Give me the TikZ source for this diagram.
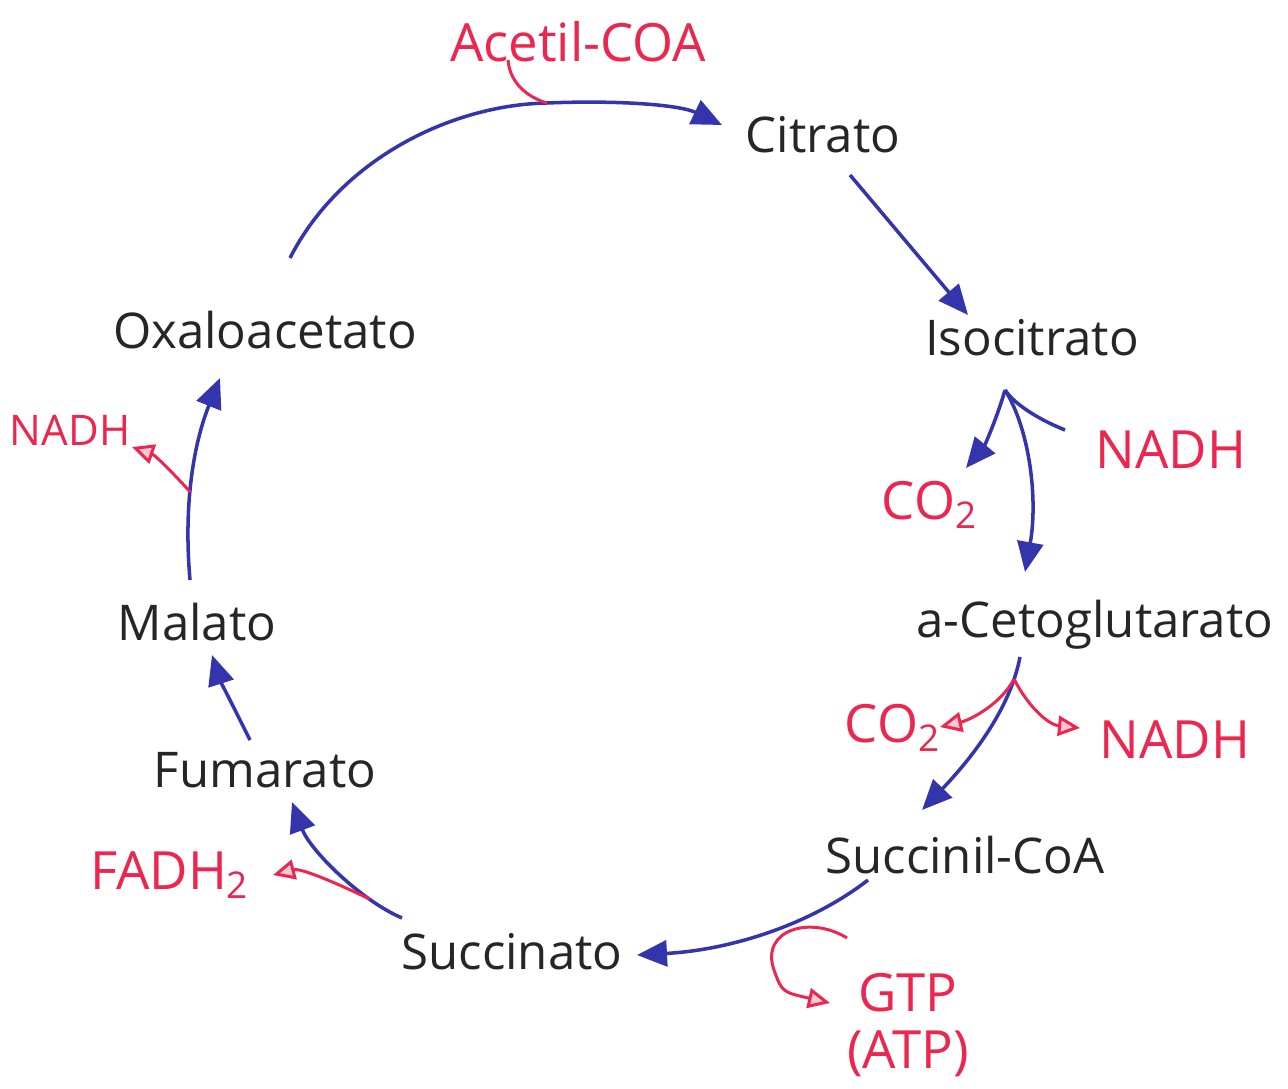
\documentclass[tikz,border=0pt]{standalone}
\usepackage{fontspec}
\setmainfont{Open Sans}
\usetikzlibrary{arrows.meta}
\definecolor{penblue}{RGB}{52,52,172}
\definecolor{penred}{RGB}{236,38,78}
\definecolor{pencil}{RGB}{38,38,38}

\begin{document}
\begin{tikzpicture}[
  metabolite/.style={inner sep=0pt, text=pencil, font=\fontsize{14}{17}\selectfont},
  product/.style={inner sep=0pt, text=penred, font=\fontsize{15}{16}\selectfont},
  cycle/.style={draw=penblue, line width=1pt, -{Triangle[length=0.3cm,width=0.26cm]}},
  joinline/.style={draw=penblue, line width=1pt},
  branch/.style={draw=penred, line width=0.85pt, -{Triangle[fill=penred!25,length=0.22cm,width=0.2cm]}},
  feed/.style={draw=penred, line width=0.85pt},
]
\useasboundingbox (0,0) rectangle (12.88,-10.89);
\fill[white] (0,0) rectangle (12.88,-10.89);

% Metabolites of the cycle
\node[metabolite] (citrato) at (8.23,-1.35) {Citrato};
\node[metabolite] (isocitrato) at (10.32,-3.38) {Isocitrato};
\node[metabolite] (cetoglut) at (10.95,-6.25) {a-Cetoglutarato};
\node[metabolite] (succoa) at (9.65,-8.55) {Succinil-CoA};
\node[metabolite] (succinato) at (5.12,-9.52) {Succinato};
\node[metabolite] (fumarato) at (2.65,-7.70) {Fumarato};
\node[metabolite] (malato) at (1.97,-6.22) {Malato};
\node[metabolite] (oxal) at (2.65,-3.30) {Oxaloacetato};

% What goes in and comes out
\node[product] (acetil) at (5.78,-0.42) {Acetil-COA};
\node[product] (nadhA) at (11.71,-4.50) {NADH};
\node[product] (co2A) at (9.30,-5.05) {CO\textsubscript{2}};
\node[product] (co2B) at (8.93,-7.28) {CO\textsubscript{2}};
\node[product] (nadhB) at (11.75,-7.40) {NADH};
\node[product, align=center] (gtp) at (9.08,-10.25) {GTP\\(ATP)};
\node[product] (fadh) at (1.70,-8.75) {FADH\textsubscript{2}};
\node[product, font=\fontsize{12}{14}\selectfont] (nadhC) at (0.70,-4.30) {NADH};

% The cycle
\draw[cycle] ([shift={(0.25,0.72)}]oxal.center) .. controls (3.4,-1.6) and (4.5,-1.05) .. (5.47,-1.03)
  coordinate (acj) .. controls (6.2,-1.0) and (6.8,-1.05) .. ([shift={(-1.01,0.10)}]citrato.center);
\draw[cycle] ([shift={(0.27,-0.40)}]citrato.center) -- ([shift={(-0.64,0.23)}]isocitrato.center);
\coordinate (j1) at ([shift={(-0.27,-0.52)}]isocitrato.center);
\draw[cycle] (j1) .. controls (10.3,-4.3) and (10.38,-5.0) .. ([shift={(-0.70,0.53)}]cetoglut.center);
\draw[cycle] ([shift={(-0.75,-0.32)}]cetoglut.center) .. controls (10.1,-7.1) and (9.7,-7.6)
  .. ([shift={(-0.43,0.45)}]succoa.center) coordinate[pos=0.14] (j2);
\draw[cycle] ([shift={(-0.97,-0.25)}]succoa.center) .. controls (8.1,-9.25) and (7.3,-9.5)
  .. ([shift={(1.25,-0.03)}]succinato.center);
\draw[cycle] ([shift={(-1.10,0.34)}]succinato.center) .. controls (3.6,-9.0) and (3.1,-8.5)
  .. ([shift={(0.27,-0.32)}]fumarato.center) coordinate[pos=0.25] (fj);
\draw[cycle] ([shift={(-0.15,0.30)}]fumarato.center) .. controls (2.35,-7.1) and (2.2,-6.8)
  .. ([shift={(0.15,-0.33)}]malato.center);
\draw[cycle] ([shift={(-0.07,0.42)}]malato.center) .. controls (1.83,-5.0) and (1.95,-4.4)
  .. ([shift={(-0.45,-0.48)}]oxal.center) coordinate[pos=0.4] (mj);

% Side branches
\draw[feed] ([shift={(-0.70,-0.18)}]acetil.center) .. controls (5.1,-0.85) and (5.3,-0.98) .. (acj);
\draw[cycle] (j1) .. controls (9.98,-4.15) and (9.85,-4.45) .. ([shift={(0.36,0.37)}]co2A.center);
\draw[joinline] ([shift={(-1.06,0.20)}]nadhA.center) .. controls (10.4,-4.2) and (10.15,-4.05) .. (j1);
\draw[branch] (j2) .. controls (10.0,-7.05) and (9.7,-7.2) .. ([shift={(0.47,0.01)}]co2B.center);
\draw[branch] (j2) .. controls (10.3,-7.1) and (10.5,-7.25) .. ([shift={(-0.95,0.12)}]nadhB.center);
\coordinate (gj) at (8.47,-9.38);
\draw[branch] (gj) .. controls (8.1,-9.15) and (7.6,-9.3) .. (7.74,-9.7)
  .. controls (7.82,-9.92) .. ([shift={(-0.78,0.22)}]gtp.center);
\draw[branch] (fj) .. controls (3.3,-8.8) and (3.0,-8.68) .. ([shift={(1.03,0)}]fadh.center);
\draw[branch] (mj) .. controls (1.75,-4.75) and (1.55,-4.55) .. ([shift={(0.62,-0.17)}]nadhC.center);
\end{tikzpicture}
\end{document}
